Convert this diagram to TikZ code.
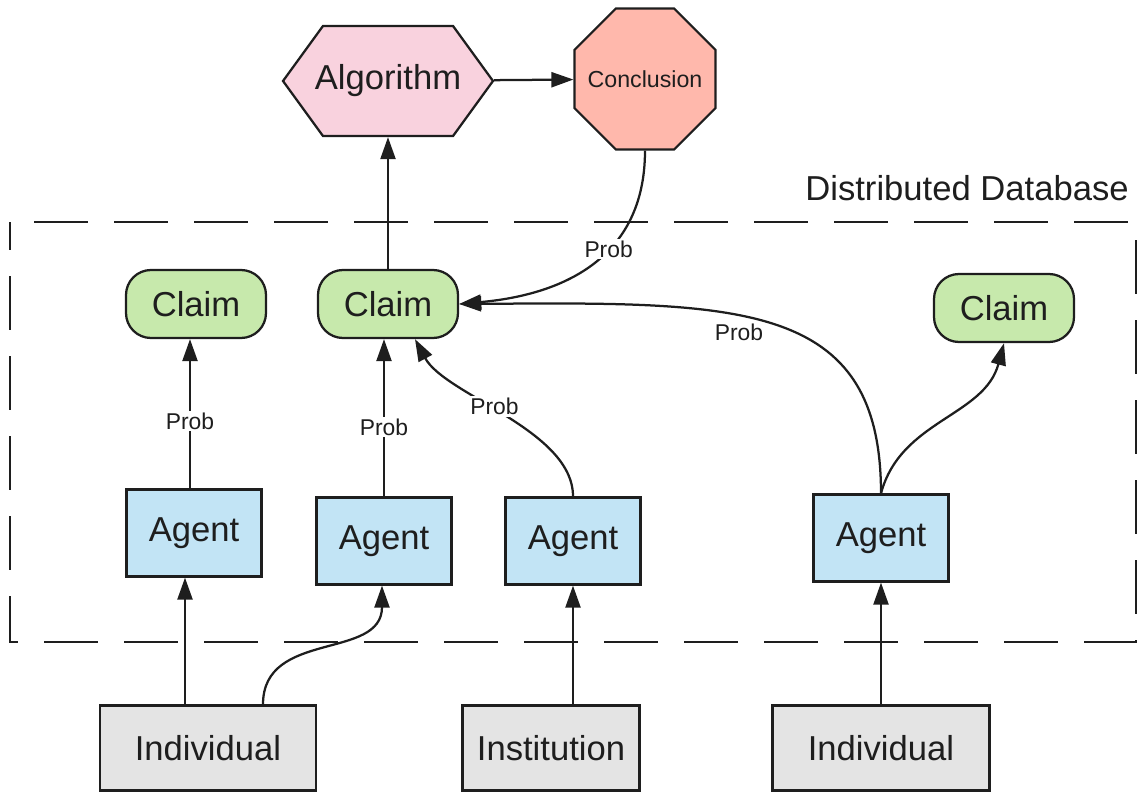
\documentclass[tikz,border=0pt]{standalone}
\usepackage{fontspec}
\setmainfont{Liberation Sans}
\usetikzlibrary{arrows.meta,shapes.geometric,shapes.symbols}
\definecolor{ink}{HTML}{1E1E1E}
\definecolor{algpink}{HTML}{F9D2DE}
\definecolor{conclred}{HTML}{FFB8AC}
\definecolor{claimgreen}{HTML}{C7E9AC}
\definecolor{agentblue}{HTML}{C2E4F5}
\definecolor{srcgray}{HTML}{E4E4E4}
\begin{document}
\begin{tikzpicture}[x=0.2mm, y=-0.2mm, line width=0.45mm,
    big/.style={font=\fontsize{19.7}{23}\selectfont},
    box/.style={draw=ink, text=ink, big, inner sep=0pt},
    claim/.style={box, fill=claimgreen, rounded corners=5mm, minimum width=28mm, minimum height=13.6mm},
    agent/.style={box, fill=agentblue, minimum width=27mm, minimum height=17.4mm},
    source/.style={box, fill=srcgray, minimum height=17mm},
    prob/.style={font=\fontsize{13}{15}\selectfont, text=ink, fill=white, inner sep=1pt},
    arr/.style={draw=ink, -{Triangle[length=4.4mm,width=3mm]}}]
  \useasboundingbox (0,0) rectangle (1137,792);

  % database border
  \draw[ink, dash pattern=on 10.8mm off 5.2mm, dash phase=5.2mm]
    (10,222) -- (10,642) -- (1136,642) -- (1136,222) -- cycle;
  \node[big, text=ink, anchor=base] (dblabel) at (967,201) {Distributed Database};

  % top
  \node[box, shape=signal, signal to=east and west, signal pointer angle=108,
        fill=algpink, minimum width=42mm, minimum height=22mm] (alg) at (388,81) {\makebox[0pt]{Algorithm}};
  \node[box, regular polygon, regular polygon sides=8, minimum size=30.5mm,
        fill=conclred, font=\fontsize{13.2}{15}\selectfont] (concl) at (645,79) {\makebox[0pt]{Conclusion}};

  % claims
  \node[claim] (claimA) at (196,304) {Claim};
  \node[claim] (claimB) at (388,304) {Claim};
  \node[claim] (claimC) at (1004,308) {Claim};

  % agents
  \node[agent] (agentA) at (194,533) {Agent};
  \node[agent] (agentB) at (384,541) {Agent};
  \node[agent] (agentC) at (573,541) {Agent};
  \node[agent] (agentD) at (881,538) {Agent};

  % sources
  \node[source, minimum width=43.2mm] (indA) at (208,748) {Individual};
  \node[source, minimum width=35.4mm] (inst) at (551,748) {Institution};
  \node[source, minimum width=43.4mm] (indB) at (881,748) {Individual};

  % edges
  \draw[arr] (alg) -- (concl);
  \draw[arr] (claimB) -- (alg);
  \draw[arr] (concl.south) .. controls (645,260) and (560,295) .. node[prob, pos=0.4] {Prob} (claimB.east);
  \draw[arr] (agentD.north) .. controls (881,300) and (740,302) .. node[prob, fill=none, pos=0.58, below=3pt] {Prob} (claimB.east);
  \draw[arr] (agentD.north) to[out=75, in=-105] (claimC.south);
  \draw[arr] (agentC.north) .. controls (573,430) and (445,395) .. node[prob, pos=0.55] {Prob} ([xshift=5.4mm]claimB.south);
  \draw[arr] ([xshift=-0.8mm]agentA.north) -- node[prob, pos=0.45] {Prob} ([xshift=-0.8mm]agentA.north |- claimA.south);
  \draw[arr] (agentB.north) -- node[prob, pos=0.44] {Prob} (agentB.north |- claimB.south);

  \draw[arr] ([xshift=-4.6mm]indA.north) -- ([xshift=-4.6mm]indA.north |- agentA.south);
  \draw[arr] ([xshift=11mm]indA.north) .. controls +(0,-75) and +(0,75) .. ([xshift=-0.4mm]agentB.south);
  \draw[arr] (agentC.south |- inst.north) -- (agentC.south);
  \draw[arr] (indB) -- (agentD);
\end{tikzpicture}
\end{document}
